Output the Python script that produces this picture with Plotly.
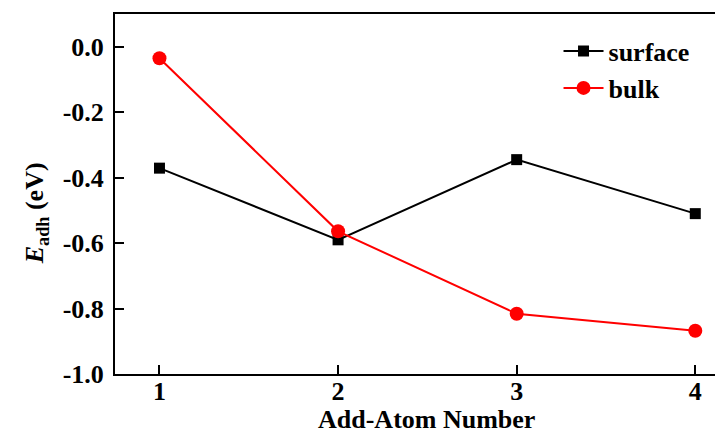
import plotly.graph_objects as go

atoms = [1, 2, 3, 4]
surface = [-0.371, -0.590, -0.345, -0.510]
bulk = [-0.035, -0.564, -0.816, -0.868]
x_ticks = [1, 2, 3, 4]
y_ticks = [-1.0, -0.8, -0.6, -0.4, -0.2, 0.0]
y_tick_labels = ["-1.0", "-0.8", "-0.6", "-0.4", "-0.2", "0.0"]
x_title = "Add-Atom Number"
y_title = "<i>E</i><sub>adh</sub> (eV)"

FONT = "Liberation Serif"
FS = 26

fig = go.Figure()
fig.add_trace(go.Scatter(
    x=atoms, y=surface, name="surface", mode="lines+markers",
    line=dict(color="black", width=2),
    marker=dict(symbol="square", size=11, color="black"),
))
fig.add_trace(go.Scatter(
    x=atoms, y=bulk, name="bulk", mode="lines+markers",
    line=dict(color="#ff0000", width=2),
    marker=dict(symbol="circle", size=14, color="#ff0000"),
))

fig.update_layout(
    width=723, height=434,
    margin=dict(l=107, r=0, t=6, b=68, autoexpand=False),
    paper_bgcolor="white", plot_bgcolor="white",
    font=dict(family=FONT, size=FS, color="black"),
    showlegend=True,
    legend=dict(
        x=0.72, y=0.962, xanchor="left", yanchor="top",
        font=dict(family=FONT, size=FS, color="black", weight="bold"),
        bgcolor="rgba(0,0,0,0)", tracegroupgap=0, itemwidth=40,
    ),
    xaxis=dict(
        range=[0.751, 4.2], tickvals=x_ticks, ticktext=[str(v) for v in x_ticks],
        ticks="inside", ticklen=9, tickwidth=2, tickcolor="black",
        showline=True, linecolor="black", linewidth=2, mirror=True,
        showgrid=False, zeroline=False, automargin=False,
        ticklabelstandoff=-7,
        tickfont=dict(family=FONT, size=FS, weight="bold"),
    ),
    yaxis=dict(
        range=[-1.0, 0.1], tickvals=y_ticks, ticktext=y_tick_labels,
        ticks="inside", ticklen=9, tickwidth=2, tickcolor="black",
        showline=True, linecolor="black", linewidth=2, mirror=False,
        showgrid=False, zeroline=False, automargin=False,
        ticklabelstandoff=4,
        tickfont=dict(family=FONT, size=FS, weight="bold"),
    ),
    annotations=[
        dict(text="<b>" + x_title + "</b>", xref="paper", yref="paper",
             x=0.506, y=-0.126, xanchor="center", yanchor="middle",
             showarrow=False, font=dict(family=FONT, size=FS, color="black")),
        dict(text="<b>" + y_title + "</b>", xref="paper", yref="paper",
             x=-0.128, y=0.447, xanchor="center", yanchor="middle", textangle=-90,
             showarrow=False, font=dict(family=FONT, size=FS, color="black")),
    ],
)

fig.write_html("out.html")
